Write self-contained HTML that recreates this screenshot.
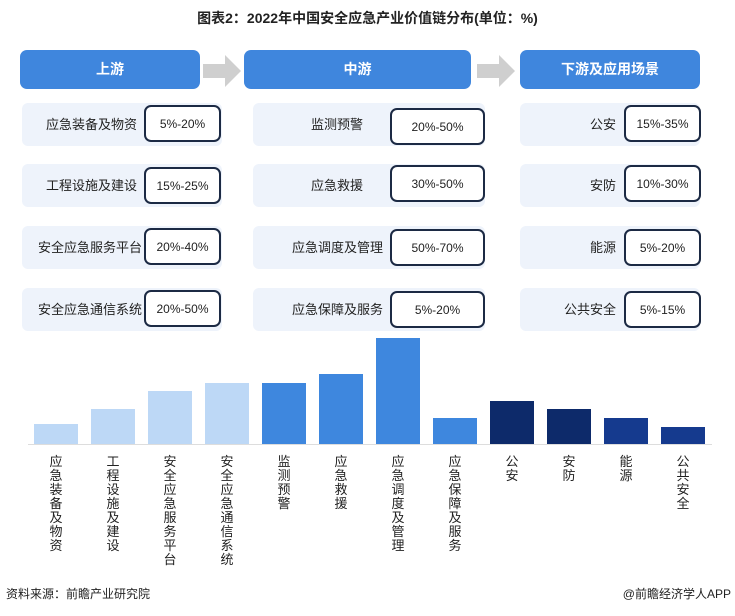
<!DOCTYPE html>
<html><head><meta charset="utf-8"><style>
body{margin:0;width:735px;height:616px;background:#fff;position:relative;overflow:hidden;font-family:"Liberation Sans","Noto Sans CJK SC",sans-serif;}
div{position:absolute;box-sizing:border-box;}
.t{left:0;width:735px;top:8px;text-align:center;font-weight:bold;font-size:14px;color:#222;}
.h{background:#3f86dd;border-radius:7px;color:#fff;font-weight:bold;font-size:14px;text-align:center;line-height:39px;height:39px;top:50px;}
.bg{background:#eef3fb;border-radius:6px;height:43px;}
.lb{font-size:13px;color:#222;text-align:right;height:43px;line-height:43px;}
.v{border:2px solid #1c2a44;border-radius:7px;background:#fff;font-size:12px;color:#222;height:37px;display:flex;align-items:center;justify-content:center;}
.bar{bottom:172px;width:44px;}
.xl{top:455px;width:16px;font-size:13px;line-height:14px;color:#222;text-align:center;word-break:break-all;}
</style></head><body>
<div class="t">图表2：2022年中国安全应急产业价值链分布(单位：%)</div>
<div class="h" style="left:20px;width:180px">上游</div>
<div class="h" style="left:244px;width:227px">中游</div>
<div class="h" style="left:520px;width:180px">下游及应用场景</div>
<svg style="position:absolute;left:203px;top:55px" width="40" height="32"><polygon points="0,9 22,9 22,0 38,16 22,32 22,23 0,23" fill="#cfcfcf"/></svg>
<svg style="position:absolute;left:477px;top:55px" width="40" height="32"><polygon points="0,9 22,9 22,0 38,16 22,32 22,23 0,23" fill="#cfcfcf"/></svg>

<div class="bg" style="left:22px;top:103px;width:200px"></div>
<div class="bg" style="left:22px;top:164px;width:200px"></div>
<div class="bg" style="left:22px;top:226px;width:200px"></div>
<div class="bg" style="left:22px;top:288px;width:200px"></div>
<div class="bg" style="left:253px;top:103px;width:232px"></div>
<div class="bg" style="left:253px;top:164px;width:232px"></div>
<div class="bg" style="left:253px;top:226px;width:232px"></div>
<div class="bg" style="left:253px;top:288px;width:232px"></div>
<div class="bg" style="left:520px;top:103px;width:180px"></div>
<div class="bg" style="left:520px;top:164px;width:180px"></div>
<div class="bg" style="left:520px;top:226px;width:180px"></div>
<div class="bg" style="left:520px;top:288px;width:180px"></div>

<div class="lb" style="left:20px;width:117px;top:103px">应急装备及物资</div>
<div class="lb" style="left:20px;width:117px;top:164px">工程设施及建设</div>
<div class="lb" style="left:20px;width:122px;top:226px">安全应急服务平台</div>
<div class="lb" style="left:20px;width:122px;top:288px">安全应急通信系统</div>
<div class="v" style="left:144px;width:77px;top:105px">5%-20%</div>
<div class="v" style="left:144px;width:77px;top:167px">15%-25%</div>
<div class="v" style="left:144px;width:77px;top:228px">20%-40%</div>
<div class="v" style="left:144px;width:77px;top:290px">20%-50%</div>

<div class="lb" style="left:253px;width:110px;top:103px">监测预警</div>
<div class="lb" style="left:253px;width:110px;top:164px">应急救援</div>
<div class="lb" style="left:253px;width:130px;top:226px">应急调度及管理</div>
<div class="lb" style="left:253px;width:130px;top:288px">应急保障及服务</div>
<div class="v" style="left:390px;width:95px;top:108px">20%-50%</div>
<div class="v" style="left:390px;width:95px;top:165px">30%-50%</div>
<div class="v" style="left:390px;width:95px;top:229px">50%-70%</div>
<div class="v" style="left:390px;width:95px;top:291px">5%-20%</div>

<div class="lb" style="left:520px;width:96px;top:103px">公安</div>
<div class="lb" style="left:520px;width:96px;top:164px">安防</div>
<div class="lb" style="left:520px;width:96px;top:226px">能源</div>
<div class="lb" style="left:520px;width:96px;top:288px">公共安全</div>
<div class="v" style="left:624px;width:77px;top:105px">15%-35%</div>
<div class="v" style="left:624px;width:77px;top:165px">10%-30%</div>
<div class="v" style="left:624px;width:77px;top:229px">5%-20%</div>
<div class="v" style="left:624px;width:77px;top:291px">5%-15%</div>

<div style="left:28px;top:444px;width:684px;height:1px;background:#ddd"></div>
<div class="bar" style="left:34px;height:20px;background:#bdd8f6"></div>
<div class="bar" style="left:91px;height:35px;background:#bdd8f6"></div>
<div class="bar" style="left:148px;height:53px;background:#bdd8f6"></div>
<div class="bar" style="left:205px;height:61px;background:#bdd8f6"></div>
<div class="bar" style="left:262px;height:61px;background:#3e87de"></div>
<div class="bar" style="left:319px;height:70px;background:#3e87de"></div>
<div class="bar" style="left:376px;height:106px;background:#3e87de"></div>
<div class="bar" style="left:433px;height:26px;background:#3e87de"></div>
<div class="bar" style="left:490px;height:43px;background:#0d2a6a"></div>
<div class="bar" style="left:547px;height:35px;background:#0d2a6a"></div>
<div class="bar" style="left:604px;height:26px;background:#153a8e"></div>
<div class="bar" style="left:661px;height:17px;background:#153a8e"></div>

<div class="xl" style="left:48px">应急装备及物资</div>
<div class="xl" style="left:105px">工程设施及建设</div>
<div class="xl" style="left:162px">安全应急服务平台</div>
<div class="xl" style="left:219px">安全应急通信系统</div>
<div class="xl" style="left:276px">监测预警</div>
<div class="xl" style="left:333px">应急救援</div>
<div class="xl" style="left:390px">应急调度及管理</div>
<div class="xl" style="left:447px">应急保障及服务</div>
<div class="xl" style="left:504px">公安</div>
<div class="xl" style="left:561px">安防</div>
<div class="xl" style="left:618px">能源</div>
<div class="xl" style="left:675px">公共安全</div>

<div style="left:6px;top:585px;font-size:12px;color:#222">资料来源：前瞻产业研究院</div>
<div style="right:4px;top:585px;font-size:12px;color:#222">@前瞻经济学人APP</div>
</body></html>
